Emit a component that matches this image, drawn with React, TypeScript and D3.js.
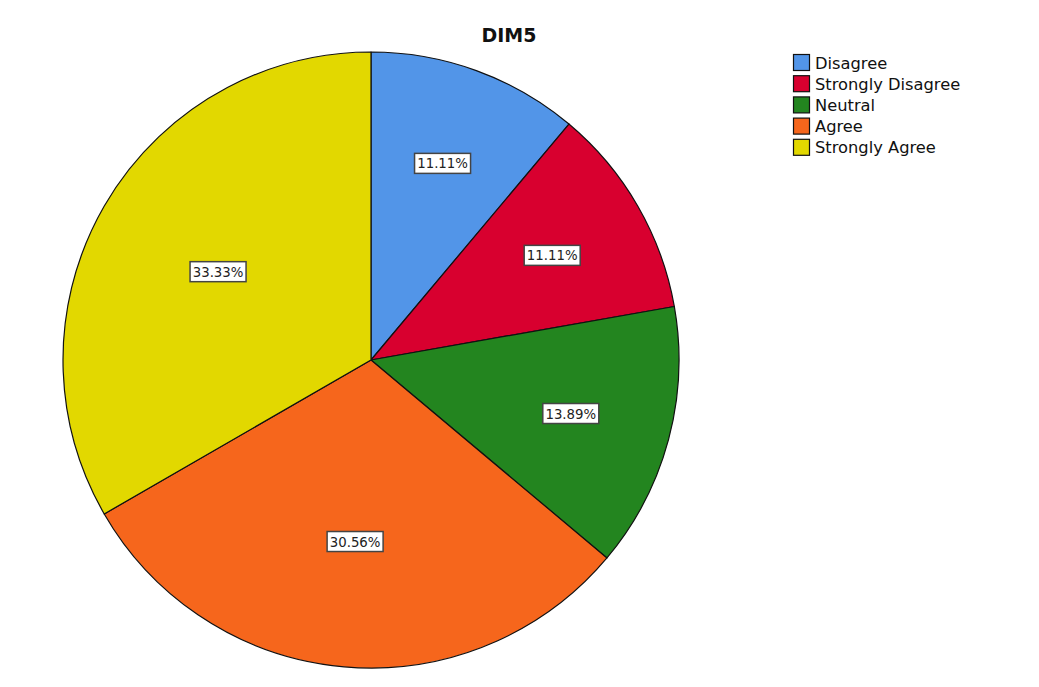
import React from "react";
import * as d3 from "d3";

const categories = ["Disagree", "Strongly Disagree", "Neutral", "Agree", "Strongly Agree"];
const values = [11.11, 11.11, 13.89, 30.56, 33.33];
const colors = ["#5295e8", "#d8002f", "#23851f", "#f6661c", "#e2d800"];
const title = "DIM5";

const W = 1039;
const H = 687;
const cx = 371;
const cy = 360;
const R = 308;

export default function App() {
  const pie = d3.pie<number>().sort(null).value((d) => d)(values);
  const arc = d3.arc<d3.PieArcDatum<number>>().innerRadius(0).outerRadius(R);
  const font = "'DejaVu Sans', Verdana, sans-serif";
  return (
    <svg width={W} height={H} style={{ position: "absolute", left: 0, top: 0 }}>
      <rect width={W} height={H} fill="#fff" />
      <text x={509} y={42} textAnchor="middle" fontFamily={font} fontWeight="bold" fontSize={19} fill="#111">
        {title}
      </text>
      <g transform={`translate(${cx},${cy})`}>
        {pie.map((p, i) => (
          <path key={i} d={arc(p) || ""} fill={colors[i]} stroke="#111" strokeWidth={1.2} strokeLinejoin="round" />
        ))}
        {pie.map((p, i) => {
          const half = (p.endAngle - p.startAngle) / 2;
          const mid = p.startAngle + half;
          const dist = ((2 * R * Math.sin(half)) / (3 * half)) * 1.04;
          const x = Math.sin(mid) * dist;
          const y = -Math.cos(mid) * dist;
          const label = values[i].toFixed(2) + "%";
          const bw = 56;
          const bh = 20;
          return (
            <g key={"l" + i} transform={`translate(${x},${y})`}>
              <rect x={-bw / 2} y={-bh / 2} width={bw} height={bh} fill="#fff" stroke="#444" strokeWidth={1.5} />
              <text x={0} y={5} textAnchor="middle" fontFamily={font} fontSize={13.3} fill="#222">
                {label}
              </text>
            </g>
          );
        })}
      </g>
      <g transform="translate(793,54)">
        {categories.map((c, i) => (
          <g key={c} transform={`translate(0,${i * 21.2})`}>
            <rect x={0.5} y={0.5} width={16} height={16} fill={colors[i]} stroke="#111" strokeWidth={1.2} />
            <text x={22} y={14.5} fontFamily={font} fontSize={16.3} fill="#111">
              {c}
            </text>
          </g>
        ))}
      </g>
    </svg>
  );
}
